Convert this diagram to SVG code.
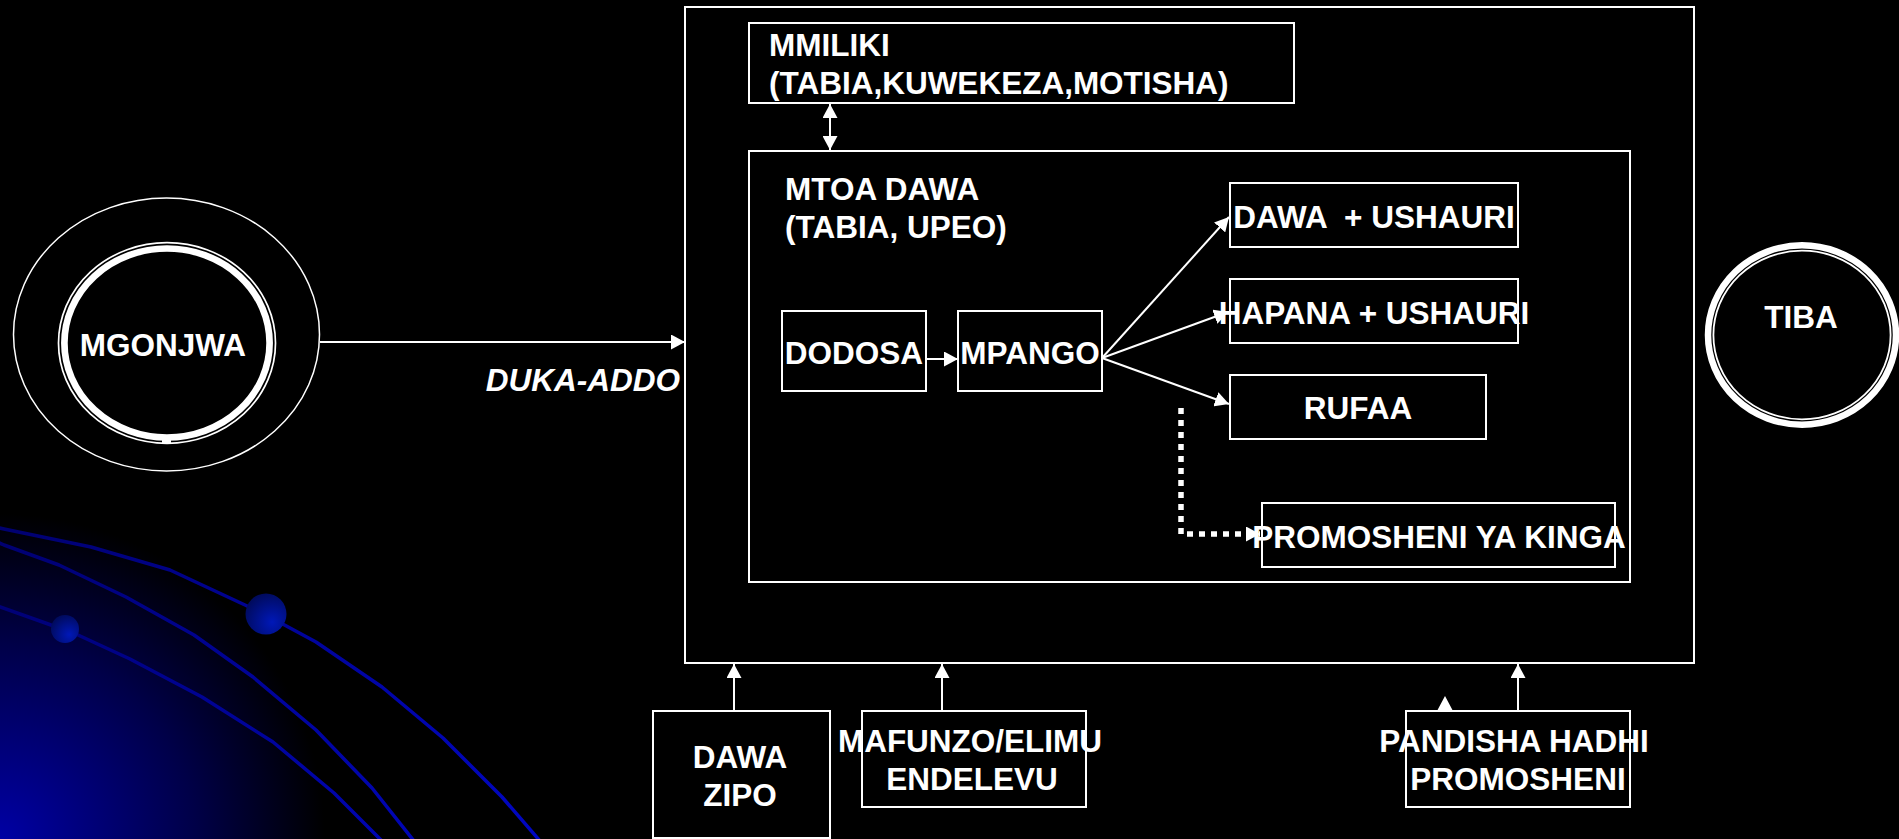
<svg xmlns="http://www.w3.org/2000/svg" width="1899" height="839" viewBox="0 0 1899 839">
<defs>
<style>
.box{fill:none;stroke:#fff;stroke-width:2}
.t{font-family:"Liberation Sans",Arial,sans-serif;font-weight:bold;font-size:31.5px;fill:#fff}
.m{text-anchor:middle}
.ln{fill:none;stroke:#fff;stroke-width:2}
.dot{fill:none;stroke:#fff;stroke-width:5.5;stroke-dasharray:6 6}
.blue{fill:none;stroke:url(#lg);stroke-width:3.5;stroke-linejoin:round}
</style>
<marker id="ah" viewBox="0 0 14 15" refX="14" refY="7.5" markerWidth="14" markerHeight="15" markerUnits="userSpaceOnUse" orient="auto-start-reverse"><path d="M0,0L14,7.5L0,15z" fill="#fff"/></marker>
<radialGradient id="glow" cx="0" cy="839" r="325" gradientUnits="userSpaceOnUse"><stop offset="0" stop-color="#0000a4"/><stop offset="0.6" stop-color="#000048"/><stop offset="1" stop-color="#000"/></radialGradient>
<linearGradient id="lg" x1="0" y1="530" x2="540" y2="839" gradientUnits="userSpaceOnUse"><stop offset="0" stop-color="#000070"/><stop offset="1" stop-color="#0006c4"/></linearGradient>
<radialGradient id="sph" cx="0.65" cy="0.7" r="0.75"><stop offset="0" stop-color="#0018b8"/><stop offset="1" stop-color="#000a5a"/></radialGradient>
</defs>
<rect x="0" y="0" width="1899" height="839" fill="#000"/>
<g id="background">
<rect x="0" y="500" width="340" height="339" fill="url(#glow)"/>
<polyline class="blue" points="-5,527 4,529 91,547 170,570 245,605 266,615 316,642 382,687 443,738 502,797 540,841"/>
<polyline class="blue" points="-5,541 4,545 59,565 126,597 194,635 253,677 316,730 372,788 414,841"/>
<polyline class="blue" points="-5,605 51,625 65,629 130,659 202,697 273,742 334,793 382,841"/>
<circle cx="266" cy="614" r="20.5" fill="url(#sph)"/>
<circle cx="65" cy="629" r="14" fill="url(#sph)"/>
</g>
<g id="connectors">
<path class="ln" d="M320,342H685" marker-end="url(#ah)"/>
<path class="ln" d="M830,104V150" marker-start="url(#ah)" marker-end="url(#ah)"/>
<path class="ln" d="M926,359H958" marker-end="url(#ah)"/>
<path class="ln" d="M1102,358L1229,217" marker-end="url(#ah)"/>
<path class="ln" d="M1102,358L1228,312" marker-end="url(#ah)"/>
<path class="ln" d="M1102,358L1229,404" marker-end="url(#ah)"/>
<path class="dot" d="M1181,408V534H1260" marker-end="url(#ah)"/>
<path class="ln" d="M734,711V664" marker-end="url(#ah)"/>
<path class="ln" d="M942,711V664" marker-end="url(#ah)"/>
<path class="ln" d="M1518,711V664" marker-end="url(#ah)"/>
<polygon points="1445,696 1437,711 1453,711" fill="#fff"/>
<text class="t" x="680" y="391" text-anchor="end" font-style="italic" font-size="32">DUKA-ADDO</text>
</g>
<g id="duka">
<rect class="box" x="685" y="7" width="1009" height="656"/>
</g>
<g id="mmiliki">
<rect class="box" x="749" y="23" width="545" height="80"/>
<text class="t" x="769" y="56">MMILIKI</text>
<text class="t" x="769" y="94" font-size="31.8">(TABIA,KUWEKEZA,MOTISHA)</text>
</g>
<g id="mtoa">
<rect class="box" x="749" y="151" width="881" height="431"/>
<text class="t" x="785" y="200" font-size="31">MTOA DAWA</text>
<text class="t" x="785" y="238" font-size="31">(TABIA, UPEO)</text>
</g>
<g id="dodosa">
<rect class="box" x="782" y="311" width="144" height="80"/>
<text class="t m" x="854" y="364">DODOSA</text>
</g>
<g id="mpango">
<rect class="box" x="958" y="311" width="144" height="80"/>
<text class="t m" x="1030" y="364">MPANGO</text>
</g>
<g id="dawa-ushauri">
<rect class="box" x="1230" y="183" width="288" height="64"/>
<text class="t m" x="1374" y="228" style="white-space:pre">DAWA  + USHAURI</text>
</g>
<g id="hapana">
<rect class="box" x="1230" y="279" width="288" height="64"/>
<text class="t m" x="1374" y="324">HAPANA + USHAURI</text>
</g>
<g id="rufaa">
<rect class="box" x="1230" y="375" width="256" height="64"/>
<text class="t m" x="1358" y="419">RUFAA</text>
</g>
<g id="kinga">
<rect class="box" x="1262" y="503" width="353" height="64"/>
<text class="t m" x="1439" y="548">PROMOSHENI YA KINGA</text>
</g>
<g id="mgonjwa">
<ellipse cx="166.5" cy="334.5" rx="153" ry="136.5" fill="none" stroke="#fff" stroke-width="1.5"/>
<ellipse cx="167" cy="343" rx="108.5" ry="100.3" fill="none" stroke="#fff" stroke-width="1.7"/>
<ellipse cx="167" cy="343" rx="102.6" ry="94.5" fill="none" stroke="#fff" stroke-width="6.7"/>
<rect x="162" y="437" width="9" height="6" fill="#fff"/>
<text class="t m" x="163" y="356" font-size="32.5">MGONJWA</text>
</g>
<g id="tiba">
<ellipse cx="1802" cy="335" rx="94" ry="89.7" fill="none" stroke="#fff" stroke-width="6.5"/>
<ellipse cx="1802" cy="335" rx="88.6" ry="84.3" fill="none" stroke="#fff" stroke-width="1.8"/>
<text class="t m" x="1801" y="328" font-size="30.7">TIBA</text>
</g>
<g id="dawa-zipo">
<rect class="box" x="653" y="711" width="177" height="127"/>
<text class="t m" x="740" y="768" font-size="30.5">DAWA</text>
<text class="t m" x="740" y="806" font-size="30.5">ZIPO</text>
</g>
<g id="mafunzo">
<rect class="box" x="862" y="711" width="224" height="96"/>
<text class="t m" x="970" y="752">MAFUNZO/ELIMU</text>
<text class="t m" x="972" y="790">ENDELEVU</text>
</g>
<g id="pandisha">
<rect class="box" x="1406" y="711" width="224" height="96"/>
<text class="t m" x="1514" y="752">PANDISHA HADHI</text>
<text class="t m" x="1518" y="790">PROMOSHENI</text>
</g>
</svg>
